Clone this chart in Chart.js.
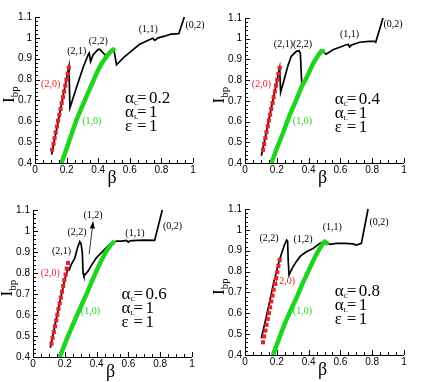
<!DOCTYPE html>
<html><head><meta charset="utf-8">
<script src="https://cdn.jsdelivr.net/npm/chart.js@4/dist/chart.umd.min.js"></script>
<style>
html,body{margin:0;padding:0;background:#fff;}
#wrap{position:relative;width:426px;height:382px;overflow:hidden;}
canvas{position:absolute;}
</style></head><body><div id="wrap">
<canvas id="c1" width="213" height="191" style="left:0;top:0"></canvas>
<canvas id="c2" width="213" height="191" style="left:213px;top:0"></canvas>
<canvas id="c3" width="213" height="191" style="left:0;top:191px"></canvas>
<canvas id="c4" width="213" height="191" style="left:213px;top:191px"></canvas>
</div>
<script>
// ---- tick labels ----
const xTickValues = [0, 0.2, 0.4, 0.6, 0.8, 1];
const yTickValues = [0.4, 0.5, 0.6, 0.7, 0.8, 0.9, 1.0, 1.1];
const alphaC = ['0.2', '0.4', '0.6', '0.8'];
const alphaL = ['1', '1', '1', '1'];
const epsVal = ['1', '1', '1', '1'];

// ---- panel 1 (alpha_C = 0.2) ----
const p1BlackX = [0.105,0.215,0.221,0.263,0.305,0.337,0.343,0.352,0.368,0.40,0.411,0.443,0.47,0.50,0.516,0.56,0.60,0.66,0.72,0.745,0.758,0.78,0.82,0.86,0.91,0.945];
const p1BlackY = [0.44,0.863,0.664,0.763,0.859,0.92,0.927,0.887,0.919,0.945,0.945,0.918,0.93,0.94,0.871,0.905,0.93,0.968,0.99,0.998,0.988,1.0,1.008,1.018,1.02,1.1];
const p1GreenX = [0.168,0.2,0.263,0.326,0.39,0.42,0.453,0.48,0.495,0.505];
const p1GreenY = [0.4,0.47,0.608,0.72,0.83,0.875,0.911,0.935,0.943,0.935];
const p1RedX = [0.109,0.117,0.124,0.131,0.139,0.146,0.154,0.162,0.169,0.177,0.184,0.192,0.199,0.207,0.214];
const p1RedY = [0.464,0.492,0.519,0.547,0.575,0.603,0.631,0.659,0.688,0.716,0.743,0.771,0.799,0.828,0.856];

// ---- panel 2 (alpha_C = 0.4) ----
const p2BlackX = [0.103,0.218,0.224,0.249,0.27,0.291,0.323,0.34,0.348,0.357,0.386,0.428,0.46,0.49,0.51,0.553,0.6,0.637,0.65,0.658,0.67,0.721,0.78,0.816,0.822,0.868];
const p2BlackY = [0.435,0.859,0.741,0.81,0.87,0.915,0.939,0.942,0.931,0.78,0.81,0.88,0.92,0.94,0.925,0.947,0.96,0.971,0.972,0.96,0.97,0.983,0.987,0.987,0.983,1.1];
const p2GreenX = [0.166,0.2,0.239,0.28,0.323,0.357,0.386,0.428,0.46,0.48,0.501];
const p2GreenY = [0.4,0.47,0.545,0.63,0.706,0.77,0.81,0.88,0.92,0.939,0.939];
const p2RedX = [0.113,0.120,0.128,0.135,0.143,0.150,0.158,0.165,0.173,0.180,0.188,0.195,0.203,0.210,0.218];
const p2RedY = [0.464,0.492,0.520,0.549,0.577,0.605,0.633,0.661,0.690,0.718,0.746,0.774,0.802,0.831,0.859];

// ---- panel 3 (alpha_C = 0.6) ----
const p3BlackX = [0.109,0.16,0.2,0.22,0.228,0.24,0.263,0.28,0.294,0.302,0.31,0.315,0.32,0.347,0.37,0.399,0.441,0.483,0.525,0.56,0.588,0.599,0.61,0.651,0.7,0.765,0.813];
const p3BlackY = [0.444,0.63,0.77,0.82,0.815,0.84,0.871,0.92,0.949,0.94,0.9,0.80,0.786,0.81,0.84,0.873,0.905,0.937,0.952,0.952,0.955,0.947,0.953,0.955,0.957,0.955,1.1];
const p3GreenX = [0.168,0.21,0.252,0.295,0.336,0.37,0.399,0.43,0.462,0.49,0.505,0.515];
const p3GreenY = [0.4,0.48,0.556,0.63,0.698,0.76,0.81,0.86,0.905,0.935,0.945,0.94];
const p3RedX = [0.116,0.123,0.131,0.138,0.146,0.153,0.160,0.168,0.175,0.183,0.190,0.197,0.205,0.212,0.220];
const p3RedY = [0.464,0.491,0.519,0.546,0.574,0.601,0.629,0.656,0.683,0.711,0.738,0.766,0.793,0.821,0.848];

// ---- panel 4 (alpha_C = 0.8) ----
const p4BlackX = [0.103,0.13,0.155,0.18,0.208,0.225,0.249,0.262,0.268,0.272,0.277,0.3,0.323,0.35,0.386,0.428,0.47,0.501,0.52,0.532,0.574,0.63,0.679,0.7,0.732,0.774];
const p4BlackY = [0.48,0.57,0.656,0.745,0.832,0.875,0.93,0.951,0.945,0.85,0.784,0.82,0.848,0.875,0.895,0.911,0.935,0.947,0.94,0.93,0.935,0.935,0.933,0.927,0.935,1.1];
const p4GreenX = [0.176,0.21,0.25,0.29,0.323,0.36,0.407,0.44,0.47,0.49,0.501,0.522];
const p4GreenY = [0.4,0.47,0.55,0.62,0.672,0.74,0.816,0.87,0.911,0.935,0.943,0.93];
const p4RedX = [0.113,0.120,0.128,0.135,0.143,0.150,0.158,0.165,0.173,0.180,0.188,0.195,0.203,0.210,0.218];
const p4RedY = [0.461,0.489,0.517,0.545,0.573,0.601,0.629,0.657,0.685,0.713,0.741,0.769,0.797,0.826,0.855];

// ---- annotation texts ----
const p1Labels = [['(2,0)','r',0.099,0.777],['(1,0)','g',0.359,0.598],['(2,1)','k',0.264,0.934],['(2,2)','k',0.401,0.981],['(1,1)','k',0.717,1.041],['(0,2)','k',1.013,1.062]];
const p2Labels = [['(2,0)','r',0.103,0.781],['(1,0)','g',0.361,0.601],['(2,1)(2,2)','k',0.302,0.971],['(1,1)','k',0.658,1.02],['(0,2)','k',0.931,1.068]];
const p3Labels = [['(2,0)','r',0.109,0.797],['(1,0)','g',0.361,0.616],['(2,1)','k',0.179,0.905],['(2,2)','k',0.277,0.992],['(1,2)','k',0.378,1.076],['(1,1)','k',0.641,0.989],['(0,2)','k',0.878,1.021]];
const p4Labels = [['(2,2)','k',0.151,0.959],['(1,2)','k',0.365,0.956],['(1,1)','k',0.549,1.011],['(0,2)','k',0.843,1.036],['(2,0)','r',0.254,0.755],['(1,0)','g',0.361,0.611]];
const p3Arrow = [[0.353,0.889],[0.378,1.045]];

// ---- layout / style ----
const COLORS = {k:'#000000', r:'#e8202a', g:'#1ed41e'};
const panels = [
  {id:'c1', yW:35, xH:28, top:17, right:20, bx:[p1BlackX,p1BlackY], gx:[p1GreenX,p1GreenY], rx:[p1RedX,p1RedY], labels:p1Labels, par:[0.57,0.712]},
  {id:'c2', yW:32, xH:28, top:18, right:22, bx:[p2BlackX,p2BlackY], gx:[p2GreenX,p2GreenY], rx:[p2RedX,p2RedY], labels:p2Labels, par:[0.564,0.711]},
  {id:'c3', yW:33, xH:25, top:19, right:21, bx:[p3BlackX,p3BlackY], gx:[p3GreenX,p3GreenY], rx:[p3RedX,p3RedY], labels:p3Labels, par:[0.557,0.698], arrow:p3Arrow},
  {id:'c4', yW:32, xH:27, top:18, right:22, bx:[p4BlackX,p4BlackY], gx:[p4GreenX,p4GreenY], rx:[p4RedX,p4RedY], labels:p4Labels, par:[0.564,0.708]}
];
const zip = (xs, ys) => xs.map((x, i) => ({x, y: ys[i]}));
const SERIF = '"Liberation Serif", "Times New Roman", serif';
const SANS = '"Liberation Sans", Arial, sans-serif';

function decoPlugin(p, idx) {
  return {
    id: 'deco' + idx,
    afterDraw(chart) {
      const ctx = chart.ctx, a = chart.chartArea, sx = chart.scales.x, sy = chart.scales.y;
      ctx.save();
      ctx.strokeStyle = '#000'; ctx.lineWidth = 1;
      // axes
      ctx.beginPath();
      ctx.moveTo(a.left + 0.5, a.top); ctx.lineTo(a.left + 0.5, a.bottom + 0.5);
      ctx.lineTo(a.right, a.bottom + 0.5);
      ctx.stroke();
      // x ticks (inward)
      ctx.beginPath();
      for (let k = 0; k <= 20; k++) {
        const v = k * 0.05, px = Math.round(sx.getPixelForValue(v)) + 0.5;
        const len = (k % 4 === 0) ? 5 : 3;
        ctx.moveTo(px, a.bottom); ctx.lineTo(px, a.bottom - len);
      }
      for (let k = 0; k <= 35; k++) {
        const v = 0.4 + k * 0.02, py = Math.round(sy.getPixelForValue(v)) + 0.5;
        const len = (k % 5 === 0) ? 5 : 3;
        ctx.moveTo(a.left, py); ctx.lineTo(a.left + len, py);
      }
      ctx.stroke();
      // axis titles
      ctx.fillStyle = '#000';
      ctx.font = '18px ' + SERIF; ctx.textAlign = 'center'; ctx.textBaseline = 'middle';
      ctx.fillText('β', (a.left + a.right) / 2 - 2, a.bottom + 15);
      ctx.save();
      ctx.translate(a.left - 21, (a.top + a.bottom) / 2 + 13);
      ctx.rotate(-Math.PI / 2);
      ctx.textAlign = 'left'; ctx.textBaseline = 'alphabetic';
      ctx.font = '17px ' + SERIF; ctx.fillText('I', 0, 0);
      const wI = ctx.measureText('I').width;
      ctx.font = '11px ' + SERIF; ctx.fillText('bp', wI, 4);
      ctx.restore();
      // curve labels
      ctx.font = '10px ' + SERIF; ctx.textAlign = 'center'; ctx.textBaseline = 'middle';
      p.labels.forEach(([t, c, bx, by]) => {
        ctx.fillStyle = COLORS[c];
        ctx.fillText(t, sx.getPixelForValue(bx), sy.getPixelForValue(by));
      });
      // arrow
      if (p.arrow) {
        const x0 = sx.getPixelForValue(p.arrow[0][0]), y0 = sy.getPixelForValue(p.arrow[0][1]);
        const x1 = sx.getPixelForValue(p.arrow[1][0]), y1 = sy.getPixelForValue(p.arrow[1][1]);
        ctx.strokeStyle = '#000'; ctx.lineWidth = 0.8;
        ctx.beginPath(); ctx.moveTo(x0, y0); ctx.lineTo(x1, y1); ctx.stroke();
        const ang = Math.atan2(y1 - y0, x1 - x0), L = 7, W = 2.6;
        ctx.fillStyle = '#000'; ctx.beginPath();
        ctx.moveTo(x1, y1);
        ctx.lineTo(x1 - L * Math.cos(ang) + W * Math.sin(ang), y1 - L * Math.sin(ang) - W * Math.cos(ang));
        ctx.lineTo(x1 - L * Math.cos(ang) - W * Math.sin(ang), y1 - L * Math.sin(ang) + W * Math.cos(ang));
        ctx.closePath(); ctx.fill();
      }
      // parameter block
      const px0 = sx.getPixelForValue(p.par[0]), py0 = sy.getPixelForValue(p.par[1]);
      const rows = [['α', 'C', alphaC[idx]], ['α', 'L', alphaL[idx]], ['ε', '', epsVal[idx]]];
      ctx.fillStyle = '#000'; ctx.textAlign = 'left'; ctx.textBaseline = 'alphabetic';
      rows.forEach(([sym, sub, val], r) => {
        const y = py0 + 5 + r * 14;
        ctx.font = '17px ' + SERIF; ctx.fillText(sym, px0, y);
        const w = ctx.measureText(sym).width;
        if (sub) { ctx.font = '7px ' + SERIF; ctx.fillText(sub, px0 + w, y + 2); }
        ctx.font = '17px ' + SERIF;
        ctx.fillText('=', px0 + 12, y);
        ctx.fillText(val, px0 + 24, y);
      });
      ctx.restore();
    }
  };
}

panels.forEach((p, idx) => {
  new Chart(document.getElementById(p.id), {
    type: 'scatter',
    data: {
      datasets: [
        {data: zip(p.gx[0], p.gx[1]), showLine: true, borderColor: COLORS.g, borderWidth: 4.5, pointRadius: 0, order: 1},
        {data: zip(p.rx[0], p.rx[1]), showLine: false, pointStyle: 'rect', pointRadius: 2.9, backgroundColor: COLORS.r, borderWidth: 0, order: 2},
        {data: zip(p.bx[0], p.bx[1]), showLine: true, borderColor: '#000', borderWidth: 1.7, pointRadius: 0, order: 3}
      ]
    },
    options: {
      responsive: false, animation: false, clip: false,
      layout: {padding: {top: p.top, right: p.right, left: 0, bottom: 0}},
      plugins: {legend: {display: false}, tooltip: {enabled: false}},
      scales: {
        x: {
          type: 'linear', min: 0, max: 1,
          afterFit: s => { s.height = p.xH; },
          afterBuildTicks: s => { s.ticks = xTickValues.map(v => ({value: v})); },
          grid: {display: false, drawTicks: false}, border: {display: false},
          ticks: {padding: 1, autoSkip: false, maxRotation: 0, color: '#000', font: {family: SANS, size: 10},
                  callback: v => String(Math.round(v * 10) / 10)}
        },
        y: {
          type: 'linear', min: 0.4, max: 1.1,
          afterFit: s => { s.width = p.yW; },
          afterBuildTicks: s => { s.ticks = yTickValues.map(v => ({value: v})); },
          grid: {display: false, drawTicks: false}, border: {display: false},
          ticks: {padding: 3, autoSkip: false, color: '#000', font: {family: SANS, size: 10},
                  callback: v => { const r = Math.round(v * 10) / 10; return r === 1 ? '1' : r.toFixed(1); }}
        }
      }
    },
    plugins: [decoPlugin(p, idx)]
  });
});
</script></body></html>
